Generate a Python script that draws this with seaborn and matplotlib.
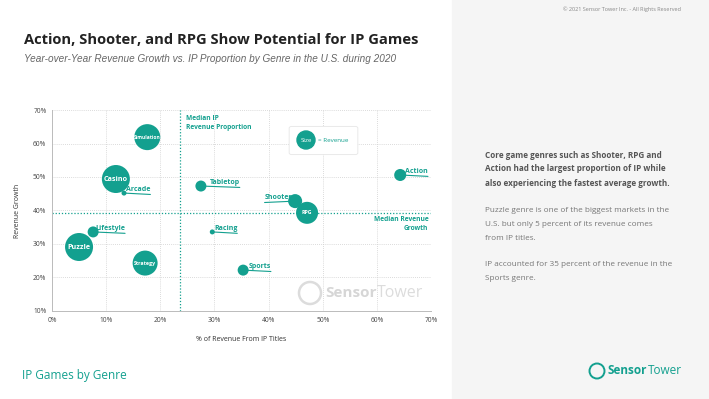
import seaborn as sns
import matplotlib.pyplot as plt
import pandas as pd
from matplotlib.patches import Rectangle, FancyBboxPatch, Ellipse

# genre data
genres = ["Simulation", "Casino", "Arcade", "Tabletop", "Lifestyle", "Puzzle",
          "Strategy", "Racing", "Sports", "Shooter", "RPG", "Action"]
ip_share = [17.6, 11.8, 13.3, 27.5, 7.6, 5.0, 17.2, 29.6, 35.3, 44.9, 47.1, 64.3]
growth = [61.9, 49.4, 45.2, 47.3, 33.6, 29.1, 24.3, 33.6, 22.2, 42.8, 39.3, 50.6]
revenue = [169, 196, 6, 30, 30, 196, 156, 6, 30, 49, 121, 36]  # relative
median_ip = 23.7
median_growth = 39.3

inside = {"Simulation": 3.5, "Casino": 5.2, "Puzzle": 5.2, "Strategy": 3.8, "RPG": 3.8}
# outside labels: offset of the leader line in points
leader = {"Arcade": 19, "Tabletop": 28, "Lifestyle": 23, "Racing": 18,
          "Sports": 20, "Shooter": -22, "Action": 20}

# side notes, one entry per line: (pixel y, text, bold)
notes = [
    (155, "Core game genres such as Shooter, RPG and", True),
    (169, "Action had the largest proportion of IP while", True),
    (183, "also experiencing the fastest average growth.", True),
    (211, "Puzzle genre is one of the biggest markets in the", False),
    (224, "U.S. but only 5 percent of its revenue comes", False),
    (238, "from IP titles.", False),
    (265, "IP accounted for 35 percent of the revenue in the", False),
    (278, "Sports genre.", False),
]

df = pd.DataFrame({"genre": genres, "ip": ip_share, "growth": growth, "revenue": revenue})

teal = "#13a08f"
W, H = 709, 399
sns.set_theme(style="white")
plt.rcParams["font.family"] = ["Open Sans", "DejaVu Sans"]

fig = plt.figure(figsize=(7.09, 3.99), dpi=100)
fig.patches.append(Rectangle((0.6375, 0), 0.3625, 1, transform=fig.transFigure,
                             color="#f5f5f5", zorder=0))


def fig_circle(cx, cy, r, **kw):
    # circle given in pixels, drawn in figure coords
    fig.patches.append(Ellipse((cx / W, 1 - cy / H), 2 * r / W, 2 * r / H,
                               transform=fig.transFigure, **kw))


ax = fig.add_axes([0.0733, 0.2206, 0.5347, 0.5037])
ax.set_facecolor("none")


# px radius -> point^2 area
def area(r):
    return (1.44 * r) ** 2


sns.scatterplot(data=df, x="ip", y="growth", size="revenue",
                sizes=(area(2.5), area(14)), color=teal, edgecolor="none",
                alpha=1, legend=False, ax=ax, zorder=3)

ax.set_xlim(0, 70)
ax.set_ylim(10, 70)
ax.set_xticks(range(0, 71, 10))
ax.set_yticks(range(10, 71, 10))
ax.set_xticklabels([f"{v}%" for v in range(0, 71, 10)])
ax.set_yticklabels([f"{v}%" for v in range(10, 71, 10)])
ax.tick_params(labelsize=4.8, colors="#444", length=0, pad=4)
ax.grid(True, ls=(0, (1, 1.5)), color="#cfcfcf", lw=0.6)
for s in ["top", "right"]:
    ax.spines[s].set_visible(False)
for s in ["left", "bottom"]:
    ax.spines[s].set_color("#bbbbbb")
    ax.spines[s].set_linewidth(0.7)
ax.set_xlabel("% of Revenue From IP Titles", fontsize=5, color="#333", labelpad=9)
ax.set_ylabel("Revenue Growth", fontsize=5, color="#333", labelpad=9)

ax.axvline(median_ip, color=teal, ls=(0, (1, 1.5)), lw=0.9, zorder=2)
ax.axhline(median_growth, color=teal, ls=(0, (1, 1.5)), lw=0.9, zorder=2)
ax.text(median_ip + 1, 68.5, "Median IP\nRevenue Proportion", color=teal, fontsize=4.8,
        fontweight="bold", va="top", ha="left", linespacing=1.4)
ax.text(69.5, 38.3, "Median Revenue\nGrowth", color=teal, fontsize=4.8,
        fontweight="bold", va="top", ha="right", linespacing=1.4)

for g, x, y in zip(genres, ip_share, growth):
    if g in inside:
        ax.text(x, y, g, color="white", fontsize=inside[g],
                fontweight="bold", ha="center", va="center", zorder=4)
    else:
        dx = leader[g]
        ax.annotate("", xy=(x, y), xytext=(dx, -1), textcoords="offset points",
                    arrowprops=dict(arrowstyle="-", color=teal, lw=0.8,
                                    shrinkA=0, shrinkB=0), zorder=2)
        ax.annotate(g, xy=(x, y), xytext=(dx, 0), textcoords="offset points",
                    ha="right" if dx > 0 else "left", va="bottom", color=teal,
                    fontsize=5, fontweight="bold")

# size legend box
fig.patches.append(FancyBboxPatch((292 / W, 1 - 153 / H), 63 / W, 25 / H,
                                  boxstyle="round,pad=0.004",
                                  transform=fig.transFigure, fc="white", ec="#e6e6e6",
                                  lw=0.6, zorder=5))
fig_circle(306, 140, 9, color=teal, zorder=6)
fig.text(306 / W, 1 - 140 / H, "Size", color="white", fontsize=4.5, ha="center",
         va="center", zorder=7)
fig.text(318 / W, 1 - 140 / H, "= Revenue", color=teal, fontsize=4.5, ha="left",
         va="center", zorder=7)

# watermark
fig_circle(310, 293, 11, fill=False, ec="#dcdcdc", lw=1.8, zorder=1)
fig.text(325 / W, 1 - 293 / H, "Sensor", color="#d6d6d6", fontsize=11, fontweight="bold",
         ha="left", va="center")
fig.text(377 / W, 1 - 293 / H, "Tower", color="#dcdcdc", fontsize=11.5, ha="left",
         va="center")

# titles
fig.text(0.034, 0.9, "Action, Shooter, and RPG Show Potential for IP Games",
         fontsize=10.6, fontweight="bold", color="#222", ha="left", va="center")
fig.text(0.034, 0.852, "Year-over-Year Revenue Growth vs. IP Proportion by Genre in the U.S. during 2020",
         fontsize=7.2, style="italic", color="#666", ha="left", va="center",
         family="Liberation Sans")
fig.text(0.031, 0.058, "IP Games by Genre", fontsize=8.5, color=teal, ha="left", va="center")
fig.text(0.96, 0.977, "© 2021 Sensor Tower Inc. - All Rights Reserved", fontsize=4,
         color="#888", ha="right", va="center")

# side notes
for py, line, bold in notes:
    fig.text(485 / W, 1 - py / H, line, fontsize=5.9,
             fontweight="bold" if bold else "normal",
             color="#555" if bold else "#777", ha="left", va="center")

# logo bottom right
fig_circle(597, 371, 7.5, fill=False, ec=teal, lw=1.4)
fig.text(607 / W, 1 - 371 / H, "Sensor", fontsize=8.5, fontweight="bold", color=teal,
         ha="left", va="center")
fig.text(648 / W, 1 - 371 / H, "Tower", fontsize=8.5, color=teal, ha="left", va="center")

fig.savefig("out.png", dpi=100)
